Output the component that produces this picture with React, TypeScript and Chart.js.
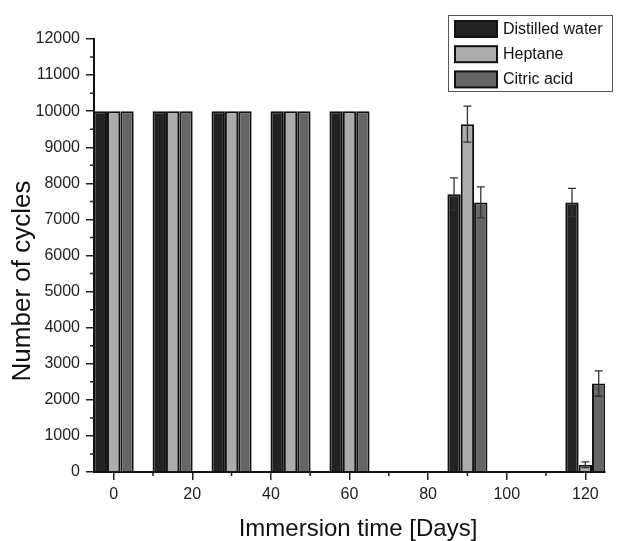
import React, { useEffect, useRef } from "react";
import { Chart, registerables } from "chart.js";

Chart.register(...registerables);

// ---- data ----
const days = [0, 15, 30, 45, 60, 90, 120];
const seriesLabels = ["Distilled water", "Heptane", "Citric acid"];
const distilledWater = [10000, 10000, 10000, 10000, 10000, 7700, 7470];
const heptane = [10000, 10000, 10000, 10000, 10000, 9640, 200];
const citricAcid = [10000, 10000, 10000, 10000, 10000, 7470, 2450];
const distilledWaterErr = [0, 0, 0, 0, 0, 450, 390];
const heptaneErr = [0, 0, 0, 0, 0, 500, 80];
const citricAcidErr = [0, 0, 0, 0, 0, 430, 350];
const seriesColors = ["#222222", "#acacac", "#656565"];

const xTickValues = [0, 20, 40, 60, 80, 100, 120];
const xMinorTickValues = [10, 30, 50, 70, 90, 110];
const yTickValues = [0, 1000, 2000, 3000, 4000, 5000, 6000, 7000, 8000, 9000, 10000, 11000, 12000];
const yMinorTickValues = [500, 1500, 2500, 3500, 4500, 5500, 6500, 7500, 8500, 9500, 10500, 11500];

const xTitle = "Immersion time [Days]";
const yTitle = "Number of cycles";

const FONT = '"Liberation Sans", Arial, sans-serif';

const errorBarPlugin = {
  id: "errorBars",
  afterDatasetsDraw(chart: any) {
    const ctx = chart.ctx;
    const yScale = chart.scales.y;
    chart.data.datasets.forEach((ds: any, di: number) => {
      const meta = chart.getDatasetMeta(di);
      const errs: number[] = ds.errors || [];
      meta.data.forEach((bar: any, i: number) => {
        const e = errs[i];
        if (!e) return;
        const v = ds.data[i].y;
        const yTop = yScale.getPixelForValue(v + e);
        const yBot = yScale.getPixelForValue(Math.max(0, v - e));
        const x = bar.x;
        ctx.save();
        ctx.strokeStyle = "#333";
        ctx.lineWidth = 1.3;
        ctx.beginPath();
        ctx.moveTo(x, yTop);
        ctx.lineTo(x, yBot);
        ctx.moveTo(x - 4, yTop);
        ctx.lineTo(x + 4, yTop);
        ctx.moveTo(x - 4, yBot);
        ctx.lineTo(x + 4, yBot);
        ctx.stroke();
        ctx.restore();
      });
    });
  },
};

const decorPlugin = {
  id: "decor",
  afterDraw(chart: any) {
    const ctx = chart.ctx;
    const area = chart.chartArea;
    const xs = chart.scales.x;
    const ys = chart.scales.y;
    ctx.save();
    // minor ticks
    ctx.strokeStyle = "#222";
    ctx.lineWidth = 1.5;
    ctx.beginPath();
    yMinorTickValues.forEach((v) => {
      const y = ys.getPixelForValue(v);
      ctx.moveTo(area.left - 4, y);
      ctx.lineTo(area.left, y);
    });
    xMinorTickValues.forEach((v) => {
      const x = xs.getPixelForValue(v);
      ctx.moveTo(x, area.bottom);
      ctx.lineTo(x, area.bottom + 4);
    });
    ctx.stroke();

    // axis titles
    ctx.fillStyle = "#111";
    ctx.font = `24px ${FONT}`;
    ctx.textAlign = "center";
    ctx.textBaseline = "alphabetic";
    ctx.fillText(xTitle, 358, 536);
    ctx.save();
    ctx.translate(30, 281);
    ctx.rotate(-Math.PI / 2);
    ctx.font = `26px ${FONT}`;
    ctx.fillText(yTitle, 0, 0);
    ctx.restore();

    // legend
    const lx = 448, ly = 15, lw = 164, lh = 76;
    ctx.fillStyle = "#fff";
    ctx.fillRect(lx, ly, lw, lh);
    ctx.strokeStyle = "#555";
    ctx.lineWidth = 1;
    ctx.strokeRect(lx + 0.5, ly + 0.5, lw, lh);
    chart.data.datasets.forEach((ds: any, i: number) => {
      const sy = 20 + i * 25.2;
      ctx.fillStyle = "#111";
      ctx.fillRect(454, sy, 44, 18);
      ctx.fillStyle = ds.backgroundColor;
      ctx.fillRect(456, sy + 2, 40, 14);
      ctx.fillStyle = "#111";
      ctx.font = `16px ${FONT}`;
      ctx.textAlign = "left";
      ctx.textBaseline = "middle";
      ctx.fillText(ds.label, 503, sy + 9.5);
    });
    ctx.restore();
  },
};

function makeData(vals: number[]) {
  return days.map((d, i) => ({ x: d, y: vals[i] }));
}

export default function App() {
  const canvasRef = useRef<HTMLCanvasElement | null>(null);

  useEffect(() => {
    const canvas = canvasRef.current;
    if (!canvas) return;
    const seriesVals = [distilledWater, heptane, citricAcid];
    const seriesErrs = [distilledWaterErr, heptaneErr, citricAcidErr];
    const chart = new Chart(canvas, {
      type: "bar",
      data: {
        datasets: seriesLabels.map((label, i) => ({
          label,
          data: makeData(seriesVals[i]),
          errors: seriesErrs[i],
          backgroundColor: seriesColors[i],
          borderColor: "#111",
          borderWidth: 2,
          categoryPercentage: 0.68,
          barPercentage: 1.0,
        })) as any,
      },
      options: {
        responsive: false,
        maintainAspectRatio: false,
        animation: false,
        devicePixelRatio: 1,
        layout: { padding: { top: 39, right: 17, left: 0, bottom: 0 } },
        plugins: {
          legend: { display: false },
          tooltip: { enabled: false },
          title: { display: false },
        },
        scales: {
          x: {
            type: "linear",
            min: -5,
            max: 125,
            offset: false,
            afterFit: (s: any) => {
              s.height = 69;
            },
            afterBuildTicks: (s: any) => {
              s.ticks = xTickValues.map((v) => ({ value: v }));
            },
            grid: {
              offset: false,
              display: true,
              drawOnChartArea: false,
              drawTicks: true,
              tickLength: 8,
              color: "#222",
              lineWidth: 1.5,
            },
            border: { display: true, color: "#111", width: 2 },
            ticks: {
              color: "#222",
              font: { family: FONT, size: 16 },
              padding: 5,
              maxRotation: 0,
              autoSkip: false,
            },
          },
          y: {
            type: "linear",
            min: 0,
            max: 12000,
            afterFit: (s: any) => {
              s.width = 94;
            },
            afterBuildTicks: (s: any) => {
              s.ticks = yTickValues.map((v) => ({ value: v }));
            },
            grid: {
              display: true,
              drawOnChartArea: false,
              drawTicks: true,
              tickLength: 8,
              color: "#222",
              lineWidth: 1.5,
            },
            border: { display: true, color: "#111", width: 2 },
            ticks: {
              color: "#222",
              font: { family: FONT, size: 16 },
              padding: 6,
              autoSkip: false,
              callback: (v: any) => String(v),
            },
          },
        },
      } as any,
      plugins: [errorBarPlugin, decorPlugin],
    });
    return () => chart.destroy();
  }, []);

  return (
    <div style={{ position: "fixed", left: 0, top: 0, width: 622, height: 541, background: "#fff" }}>
      <canvas ref={canvasRef} width={622} height={541} />
    </div>
  );
}
